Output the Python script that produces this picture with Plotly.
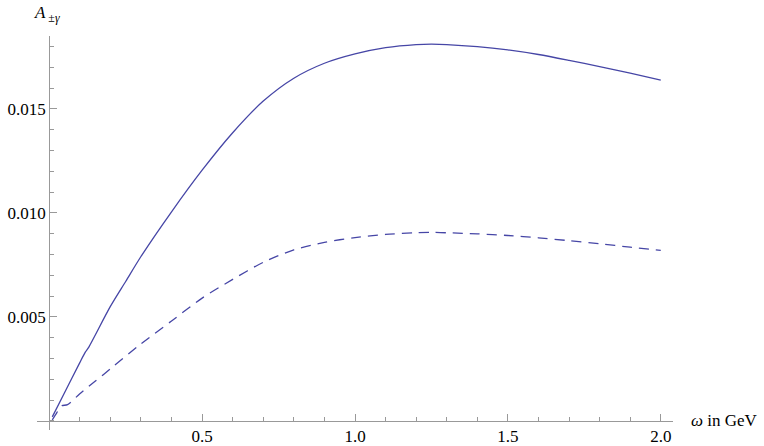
import plotly.graph_objects as go

# omega in GeV
omega_solid = [0.01, 0.05, 0.1, 0.118, 0.13, 0.2, 0.25, 0.3, 0.4, 0.5, 0.6, 0.7, 0.8, 0.9,
               1.0, 1.1, 1.2, 1.25, 1.3, 1.4, 1.5, 1.6, 1.7, 1.8, 1.9, 2.0]
a_solid = [0.00019, 0.00135, 0.0028, 0.0033, 0.00356, 0.0055, 0.0067, 0.0079, 0.01005, 0.01205,
           0.01385, 0.01537, 0.01647, 0.01719, 0.01764, 0.01794, 0.01809, 0.01811, 0.01809,
           0.01799, 0.01783, 0.01761, 0.01733, 0.01703, 0.01671, 0.01638]

omega_dashed = [0.01, 0.025, 0.04, 0.06, 0.1, 0.15, 0.2, 0.3, 0.4, 0.5, 0.6, 0.7, 0.8, 0.9,
                1.0, 1.1, 1.2, 1.25, 1.3, 1.4, 1.5, 1.6, 1.7, 1.8, 1.9, 2.0]
a_dashed = [0.00005, 0.0004, 0.00072, 0.00078, 0.0013, 0.0019, 0.0025, 0.0037, 0.0048,
            0.0059, 0.0068, 0.00762, 0.00822, 0.00858, 0.00881, 0.00896, 0.00904, 0.00906,
            0.00904, 0.00899, 0.00891, 0.00880, 0.00866, 0.00851, 0.00835, 0.00819]

x_ticks = [0.5, 1.0, 1.5, 2.0]
x_ticktext = ['0.5', '1.0', '1.5', '2.0']
y_ticks = [0.005, 0.010, 0.015]
y_ticktext = ['0.005', '0.010', '0.015']

line_col = '#4646a6'
axis_col = '#999999'
font = 'Liberation Serif, Times New Roman, serif'

x_range = [-0.04, 2.04]
y_range = [-0.00044, 0.0185]

fig = go.Figure()
fig.add_trace(go.Scatter(x=omega_solid, y=a_solid, mode='lines',
                         line=dict(color=line_col, width=1.3, shape='spline', smoothing=0.8)))
fig.add_trace(go.Scatter(x=omega_dashed, y=a_dashed, mode='lines',
                         line=dict(color=line_col, width=1.3, dash='10px,7px',
                                   shape='spline', smoothing=0.8)))

fig.update_layout(
    width=764, height=446, autosize=False,
    margin=dict(l=37, r=91, t=36, b=16),
    plot_bgcolor='white', paper_bgcolor='white',
    showlegend=False,
    font=dict(family=font, size=17, color='black'),
    xaxis=dict(range=x_range, anchor='free', automargin=False,
               position=(0 - y_range[0]) / (y_range[1] - y_range[0]),
               tickvals=x_ticks, ticktext=x_ticktext,
               tickfont=dict(family=font, size=17, color='black'),
               ticks='inside', ticklen=7, tickcolor=axis_col, tickwidth=1,
               minor=dict(dtick=0.1, tick0=0, ticks='inside', ticklen=4, tickcolor=axis_col),
               showline=True, linecolor=axis_col, linewidth=1.2,
               showgrid=False, zeroline=False),
    yaxis=dict(range=y_range, anchor='free', automargin=False,
               position=(0 - x_range[0]) / (x_range[1] - x_range[0]),
               tickvals=y_ticks, ticktext=y_ticktext,
               tickfont=dict(family=font, size=17, color='black'),
               ticks='inside', ticklen=7, tickcolor=axis_col, tickwidth=1,
               minor=dict(dtick=0.001, tick0=0, ticks='inside', ticklen=4, tickcolor=axis_col),
               showline=True, linecolor=axis_col, linewidth=1.2,
               showgrid=False, zeroline=False),
)

fig.add_annotation(text='<i>ω</i> in GeV', xref='paper', yref='y', x=1.0, y=0,
                   xanchor='left', yanchor='middle', xshift=16, showarrow=False,
                   font=dict(family=font, size=17, color='black'))
fig.add_annotation(text='<i>A</i><sub> ±<i>γ</i></sub>', xref='paper', yref='paper', x=0, y=1,
                   xanchor='left', yanchor='bottom', xshift=-5, yshift=9, showarrow=False,
                   font=dict(family=font, size=17, color='black'))

# the page body has an 8px default margin; drop it so the figure sits at the corner
fig.write_html('out.html', config={'displayModeBar': False},
               post_script="document.body.style.margin='0px';")
